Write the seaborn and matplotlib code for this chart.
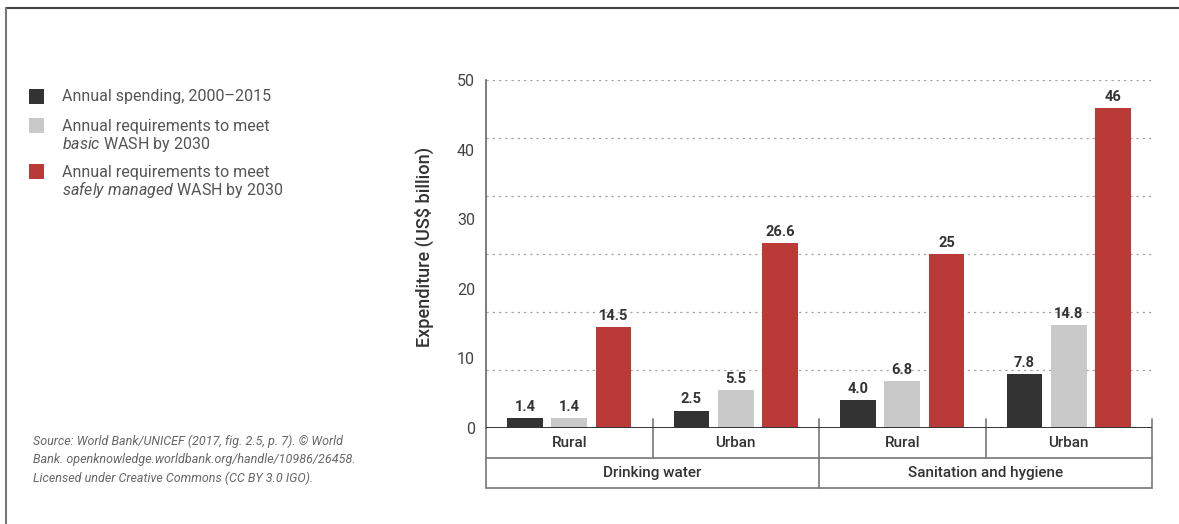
import matplotlib
matplotlib.use("Agg")
import matplotlib.pyplot as plt
from matplotlib.lines import Line2D
from matplotlib.patches import Rectangle
import numpy as np
import seaborn as sns
import pandas as pd

# ---- data ----
sectors = ["Drinking water", "Drinking water", "Sanitation and hygiene", "Sanitation and hygiene"]
areas = ["Rural", "Urban", "Rural", "Urban"]
spending_2000_2015 = [1.4, 2.5, 4.0, 7.8]
basic_2030 = [1.4, 5.5, 6.8, 14.8]
safely_managed_2030 = [14.5, 26.6, 25, 46]
series_names = [
    "Annual spending, 2000\u20132015",
    "Annual requirements to meet basic WASH by 2030",
    "Annual requirements to meet safely managed WASH by 2030",
]
legend_lines = [
    ["Annual spending, 2000\u20132015"],
    ["Annual requirements to meet", r"$\it{basic}$ WASH by 2030"],
    ["Annual requirements to meet", r"$\it{safely\ managed}$ WASH by 2030"],
]
y_ticks = [0, 10, 20, 30, 40, 50]
y_label = "Expenditure (US$ billion)"
source_lines = [
    "Source: World Bank/UNICEF (2017, fig. 2.5, p. 7). \u00a9 World",
    "Bank. openknowledge.worldbank.org/handle/10986/26458.",
    "Licensed under Creative Commons (CC BY 3.0 IGO).",
]

colors = ["#333333", "#c9c9c9", "#b93a37"]

group_keys = [f"{s}|{a}" for s, a in zip(sectors, areas)]
rows = []
for name, vals in zip(series_names, [spending_2000_2015, basic_2030, safely_managed_2030]):
    for k, v in zip(group_keys, vals):
        rows.append({"group": k, "series": name, "value": v})
df = pd.DataFrame(rows)

sns.set_theme(style="white")
plt.rcParams["font.family"] = ["Roboto", "DejaVu Sans"]
plt.rcParams["mathtext.fontset"] = "custom"
plt.rcParams["mathtext.rm"] = "Roboto"
plt.rcParams["mathtext.it"] = "Roboto:italic"

W, H, DPI = 1179, 524, 100
fig = plt.figure(figsize=(W / DPI, H / DPI), dpi=DPI)
fig.patch.set_facecolor("white")

def px(x, y):
    return x / W, 1 - y / H

ax_left, ax_right, ax_top, ax_bottom = 486, 1152, 80, 428
ax = fig.add_axes([ax_left / W, 1 - ax_bottom / H, (ax_right - ax_left) / W, (ax_bottom - ax_top) / H])

sns.barplot(data=df, x="group", y="value", hue="series", order=group_keys,
            hue_order=series_names, palette=colors, width=0.8, gap=0.2,
            saturation=1, ax=ax, legend=False, linewidth=0)

# value labels
for container in ax.containers:
    labels = []
    for bar in container:
        v = bar.get_height()
        labels.append(f"{v:.0f}" if v in (25, 46) else f"{v:.1f}")
    ax.bar_label(container, labels=labels, padding=3, fontsize=10.5,
                 fontweight="bold", color="#333333")

ax.set_xlim(-0.5, len(group_keys) - 0.5)
ax.set_ylim(0, 50)
ax.set_yticks(y_ticks)
ax.set_yticklabels([str(t) for t in y_ticks], fontsize=11.5, color="#444444")
ax.tick_params(axis="y", length=0, pad=8)
ax.set_xticks([])
ax.set_xlabel("")
ax.set_ylabel(y_label, fontsize=13, fontweight="medium", color="#333333")
ax.yaxis.set_label_coords(-0.078, 0.52)

# dotted guide lines, six even steps up to the top of the scale
for g in np.linspace(0, 50, 7)[1:]:
    ax.axhline(g, color="#a5a5a5", linestyle=(0, (1.8, 3.2)), linewidth=0.9, zorder=0)

for s in ["top", "right", "bottom"]:
    ax.spines[s].set_visible(False)
ax.spines["left"].set_color("#666666")
ax.spines["left"].set_linewidth(1.2)

# baseline
ax.axhline(0, color="#333333", linewidth=1.4, zorder=5)

# category table below the axis
row_h = 30 / (ax_bottom - ax_top)
tr = ax.get_xaxis_transform()
line_kw = dict(transform=tr, clip_on=False, color="#777777", linewidth=1.2)
n = len(group_keys)
# outer frame
ax.add_line(Line2D([-0.5, -0.5], [0, -2 * row_h], **line_kw))
ax.add_line(Line2D([n - 0.5, n - 0.5], [0.025, -2 * row_h], **line_kw))
ax.add_line(Line2D([-0.5, n - 0.5], [-row_h, -row_h], **line_kw))
ax.add_line(Line2D([-0.5, n - 0.5], [-2 * row_h, -2 * row_h], **line_kw))
# area dividers (with small ticks above the baseline)
for i in range(1, n):
    bottom = -2 * row_h if sectors[i] != sectors[i - 1] else -row_h
    ax.add_line(Line2D([i - 0.5, i - 0.5], [0.025, bottom], **line_kw))
# area labels
for i, a in enumerate(areas):
    ax.text(i, -row_h / 2, a, transform=tr, ha="center", va="center",
            fontsize=11, fontweight="medium", color="#333333")
# sector labels
sector_names = list(dict.fromkeys(sectors))
for s in sector_names:
    idx = [i for i, v in enumerate(sectors) if v == s]
    ax.text((idx[0] + idx[-1]) / 2, -1.5 * row_h, s, transform=tr, ha="center",
            va="center", fontsize=11, fontweight="medium", color="#333333")

# legend (left panel)
sq = 15
item_tops = [97, 126, 172]
for c, lines, yc in zip(colors, legend_lines, item_tops):
    x0, y0 = px(29, yc - 1 + sq / 2)
    fig.patches.append(Rectangle((x0, y0), sq / W, sq / H, transform=fig.transFigure,
                                 facecolor=c, edgecolor="none"))
    for j, line in enumerate(lines):
        fx, fy = px(62, yc + j * 18)
        fig.text(fx, fy, line, ha="left", va="center", fontsize=11.5, color="#555555")

# source note
for j, line in enumerate(source_lines):
    fx, fy = px(33, 441 + j * 18.5)
    fig.text(fx, fy, line, ha="left", va="center", fontsize=9, style="italic", color="#666666")

# frame lines along the top and left edges
fig.add_artist(Line2D([6 / W, 1], [1 - 8 / H, 1 - 8 / H], transform=fig.transFigure,
                      color="#444444", linewidth=1.5))
fig.add_artist(Line2D([6 / W, 6 / W], [0, 1 - 8 / H], transform=fig.transFigure,
                      color="#777777", linewidth=1.5))

fig.savefig("out.png", dpi=DPI, facecolor="white")
